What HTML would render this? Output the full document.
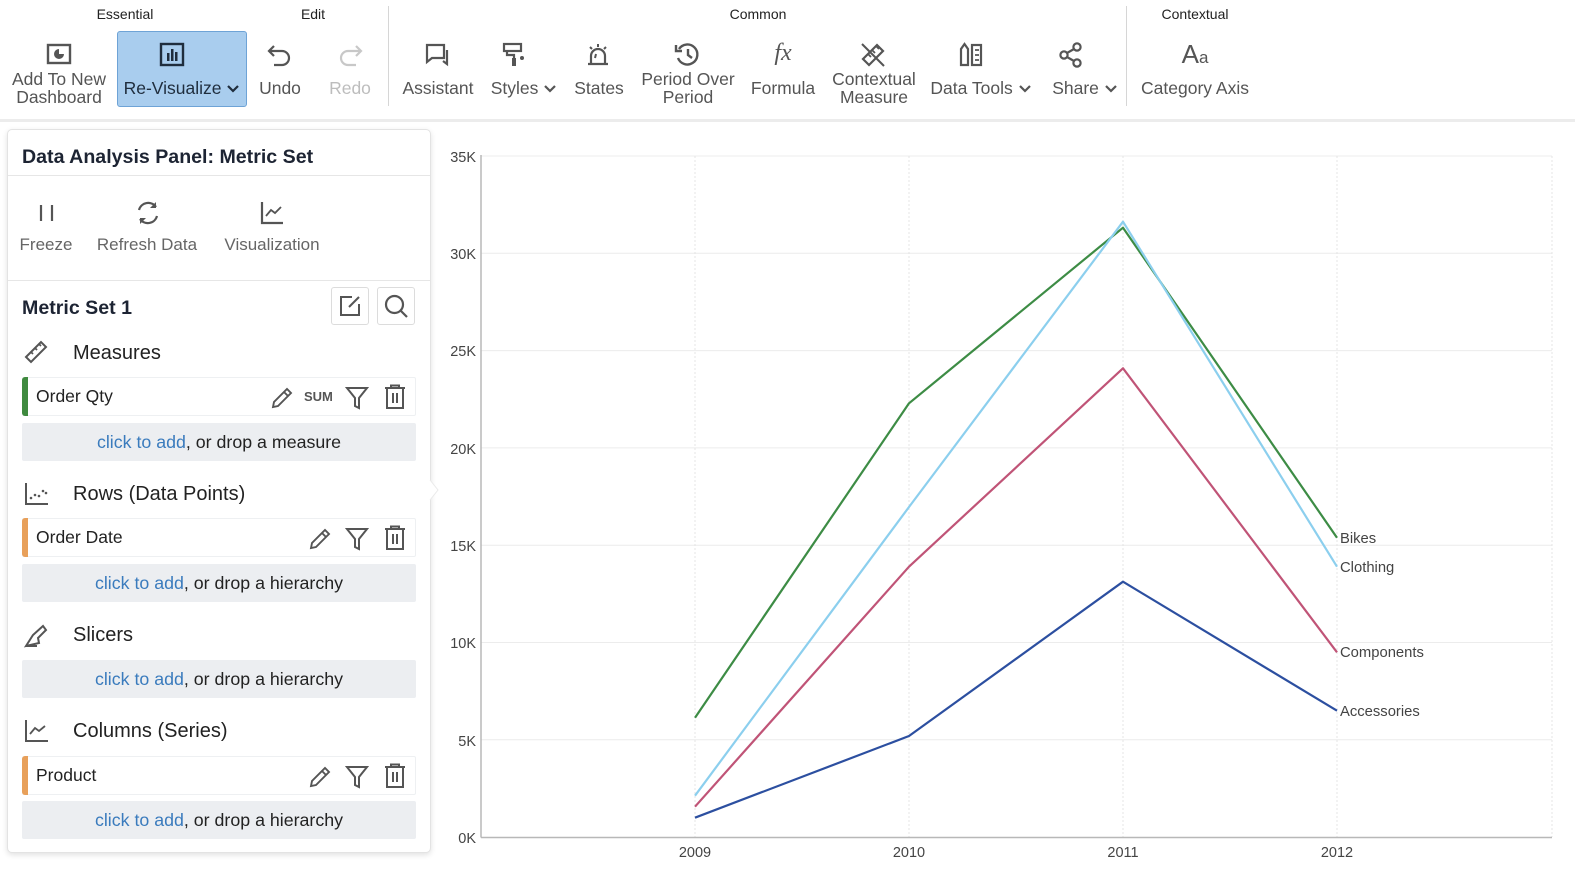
<!DOCTYPE html>
<html><head><meta charset="utf-8">
<style>
*{box-sizing:border-box;margin:0;padding:0}
html,body{width:1575px;height:872px;overflow:hidden;background:#fff;font-family:"Liberation Sans",Arial,sans-serif;color:#222}
.abs{position:absolute}
.grp{position:absolute;top:5px;font-size:14px;color:#222;width:160px;text-align:center;line-height:18px}
.tl{position:absolute;width:200px;text-align:center;font-size:17.5px;color:#555;line-height:18px}
.ic{position:absolute}
.sep{position:absolute;top:6px;width:1px;height:100px;background:#d6d6d6}
.panel{position:absolute;left:7px;top:129px;width:424px;height:724px;background:#fff;border:1px solid #e3e3e3;border-radius:5px;box-shadow:0 2px 6px rgba(0,0,0,.12)}
.ptl{position:absolute;font-size:17px;color:#666;width:160px;text-align:center;line-height:18px}
.sh{position:absolute;left:73px;font-size:20px;color:#222;line-height:22px}
.row{position:absolute;left:22px;width:394px;background:#fff;border:1px solid #eef0f2;border-radius:2px}
.row .bar{position:absolute;left:-1px;top:-1px;bottom:-1px;width:6px;border-radius:3px 0 0 3px}
.row .t{position:absolute;left:13px;top:0;bottom:0;display:flex;align-items:center;font-size:17.5px;color:#222}
.add{position:absolute;left:22px;width:394px;background:#eceef1;border-radius:2px;display:flex;align-items:center;justify-content:center;font-size:17.8px;color:#222}
.add span{color:#3a7bbd}
</style></head><body>

<!-- Toolbar -->
<div class="abs" style="left:0;top:119px;width:1575px;height:3px;background:#ececec"></div>
<div class="grp" style="left:45px">Essential</div>
<div class="grp" style="left:233px">Edit</div>
<div class="grp" style="left:678px">Common</div>
<div class="grp" style="left:1115px">Contextual</div>
<div class="sep" style="left:388px"></div>
<div class="sep" style="left:1126px"></div>

<!-- Add to new dashboard -->
<svg class="ic" style="left:46px;top:42px" width="26" height="26" viewBox="0 0 26 26"><rect x="2" y="3" width="22" height="18" fill="none" stroke="#555" stroke-width="2.4"/><path d="M13 7 a5 5 0 1 0 5 5 h-5z" fill="#555"/></svg>
<div class="tl" style="left:-41px;top:70px">Add To New<br>Dashboard</div>

<!-- Re-Visualize -->
<div class="abs" style="left:117px;top:31px;width:130px;height:76px;background:#a9cdee;border:1px solid #6ea3d6;border-radius:3px"></div>
<svg class="ic" style="left:159px;top:42px" width="26" height="26" viewBox="0 0 26 26"><rect x="2" y="2" width="22" height="21" fill="none" stroke="#1f2d3d" stroke-width="2.4"/><rect x="8" y="11" width="2.5" height="8" fill="#1f2d3d"/><rect x="12" y="7" width="2.5" height="12" fill="#1f2d3d"/><rect x="16" y="10" width="2.5" height="9" fill="#1f2d3d"/></svg>
<div class="tl" style="left:82px;top:79px;color:#1f2d3d">Re-Visualize <svg width="14" height="10" viewBox="0 0 14 10"><path d="M2 2 L7 7 L12 2" fill="none" stroke="#1f2d3d" stroke-width="2.2"/></svg></div>

<!-- Undo / Redo -->
<svg class="ic" style="left:266px;top:42px" width="28" height="26" viewBox="0 0 28 26"><path d="M8 4 L3 9 L8 14 M3 9 H16 a7 7 0 0 1 0 14 H8" fill="none" stroke="#555" stroke-width="2.2"/></svg>
<div class="tl" style="left:180px;top:79px">Undo</div>
<svg class="ic" style="left:336px;top:42px" width="28" height="26" viewBox="0 0 28 26"><path d="M20 4 L25 9 L20 14 M25 9 H12 a7 7 0 0 0 0 14 H20" fill="none" stroke="#c8c8c8" stroke-width="2.2"/></svg>
<div class="tl" style="left:250px;top:79px;color:#bdbdbd">Redo</div>

<!-- Assistant -->
<svg class="ic" style="left:424px;top:42px" width="28" height="26" viewBox="0 0 28 26"><path d="M3 3 H20 V16 H8 L3 20 Z" fill="none" stroke="#555" stroke-width="2.2"/><path d="M23 8 V22 L19 19" fill="none" stroke="#555" stroke-width="2.2"/></svg>
<div class="tl" style="left:338px;top:79px">Assistant</div>

<!-- Styles -->
<svg class="ic" style="left:501px;top:42px" width="26" height="26" viewBox="0 0 26 26"><rect x="3" y="2" width="17" height="7" fill="none" stroke="#555" stroke-width="2.2"/><path d="M6 9 V13 H13 V16" fill="none" stroke="#555" stroke-width="2.2"/><rect x="11" y="16" width="4" height="8" fill="#555"/><circle cx="21" cy="16" r="2" fill="#555"/></svg>
<div class="tl" style="left:424px;top:79px">Styles <svg width="14" height="10" viewBox="0 0 14 10"><path d="M2 2 L7 7 L12 2" fill="none" stroke="#555" stroke-width="2.2"/></svg></div>

<!-- States -->
<svg class="ic" style="left:585px;top:41px" width="26" height="27" viewBox="0 0 26 27"><path d="M6 23 V15 a7 7 0 0 1 14 0 V23 M3 23 H23" fill="none" stroke="#555" stroke-width="2.2"/><path d="M13 3 V6 M5 6 L7 8 M21 6 L19 8 M11 13 L10 17" stroke="#555" stroke-width="2"/></svg>
<div class="tl" style="left:499px;top:79px">States</div>

<!-- Period over period -->
<svg class="ic" style="left:673px;top:41px" width="28" height="27" viewBox="0 0 28 27"><path d="M6 8 a10 10 0 1 1 -1 9" fill="none" stroke="#555" stroke-width="2.4"/><path d="M3 4 V10 H9" fill="none" stroke="#555" stroke-width="2.4"/><path d="M15 8 V14 L19 17" fill="none" stroke="#555" stroke-width="2.4"/></svg>
<div class="tl" style="left:588px;top:70px">Period Over<br>Period</div>

<!-- Formula -->
<div class="abs" style="left:763px;top:40px;width:40px;text-align:center;font-family:'Liberation Serif',serif;font-style:italic;font-size:24px;color:#555">fx</div>
<div class="tl" style="left:683px;top:79px">Formula</div>

<!-- Contextual Measure -->
<svg class="ic" style="left:859px;top:41px" width="28" height="27" viewBox="0 0 28 27"><path d="M4 18 L18 4 L24 10 L10 24 Z" fill="none" stroke="#555" stroke-width="2.2"/><path d="M9 13 L12 16 M13 9 L16 12 M17 5 L20 8" stroke="#555" stroke-width="1.8"/><path d="M3 3 L25 25" stroke="#555" stroke-width="2"/></svg>
<div class="tl" style="left:774px;top:70px">Contextual<br>Measure</div>

<!-- Data Tools -->
<svg class="ic" style="left:958px;top:41px" width="26" height="27" viewBox="0 0 26 27"><path d="M3 24 V8 L6.5 3 L10 8 V24 Z" fill="none" stroke="#555" stroke-width="2.2"/><rect x="14" y="4" width="9" height="20" fill="none" stroke="#555" stroke-width="2.2"/><path d="M17 9 H21 M17 14 H21 M17 19 H21" stroke="#555" stroke-width="1.8"/></svg>
<div class="tl" style="left:881px;top:79px">Data Tools <svg width="14" height="10" viewBox="0 0 14 10"><path d="M2 2 L7 7 L12 2" fill="none" stroke="#555" stroke-width="2.2"/></svg></div>

<!-- Share -->
<svg class="ic" style="left:1058px;top:41px" width="26" height="27" viewBox="0 0 26 27"><circle cx="19" cy="6" r="3.6" fill="none" stroke="#555" stroke-width="2.2"/><circle cx="6" cy="14" r="3.6" fill="none" stroke="#555" stroke-width="2.2"/><circle cx="19" cy="22" r="3.6" fill="none" stroke="#555" stroke-width="2.2"/><path d="M9 12 L16 8 M9 16 L16 20" stroke="#555" stroke-width="2.2"/></svg>
<div class="tl" style="left:985px;top:79px">Share <svg width="14" height="10" viewBox="0 0 14 10"><path d="M2 2 L7 7 L12 2" fill="none" stroke="#555" stroke-width="2.2"/></svg></div>

<!-- Category Axis -->
<div class="abs" style="left:1165px;top:39px;width:60px;text-align:center;font-size:26px;color:#555;line-height:30px">A<span style="font-size:17px">a</span></div>
<div class="tl" style="left:1095px;top:79px">Category Axis</div>

<!-- Left panel -->
<div class="panel"></div>
<svg class="abs" style="left:428px;top:478px" width="12" height="24" viewBox="0 0 12 24"><path d="M0 0 L10 12 L0 24 Z" fill="#fff"/><path d="M2 2 L10 12 L2 22" fill="none" stroke="#eaeaea" stroke-width="1"/></svg>
<div class="abs" style="left:22px;top:146px;font-size:19.6px;font-weight:bold;color:#1d2433;line-height:22px">Data Analysis Panel: Metric Set</div>
<div class="abs" style="left:8px;top:175px;width:422px;height:1px;background:#e6e6e6"></div>

<svg class="abs" style="left:37px;top:202px" width="20" height="22" viewBox="0 0 20 22"><path d="M4 3 V19 M15 3 V19" stroke="#555" stroke-width="2.2"/></svg>
<div class="ptl" style="left:-34px;top:236px">Freeze</div>
<svg class="abs" style="left:134px;top:199px" width="28" height="28" viewBox="0 0 28 28"><path d="M5 11 a9.5 9.5 0 0 1 17 -3" fill="none" stroke="#555" stroke-width="2.2"/><path d="M23 17 a9.5 9.5 0 0 1 -17 3" fill="none" stroke="#555" stroke-width="2.2"/><path d="M22 3 V9 H16" fill="#555"/><path d="M6 25 V19 H12" fill="#555"/></svg>
<div class="ptl" style="left:67px;top:236px">Refresh Data</div>
<svg class="abs" style="left:259px;top:200px" width="26" height="26" viewBox="0 0 26 26"><path d="M3 2 V23 H24" fill="none" stroke="#555" stroke-width="2.2"/><path d="M7 16 L12 10 L16 13 L22 7" fill="none" stroke="#555" stroke-width="1.8"/></svg>
<div class="ptl" style="left:192px;top:236px">Visualization</div>
<div class="abs" style="left:8px;top:280px;width:422px;height:1px;background:#e6e6e6"></div>

<div class="abs" style="left:22px;top:297px;font-size:19.6px;font-weight:bold;color:#1d2433;line-height:22px">Metric Set 1</div>
<div class="abs" style="left:331px;top:287px;width:38px;height:38px;border:1px solid #dcdcdc;border-radius:3px"></div>
<svg class="abs" style="left:338px;top:294px" width="24" height="24" viewBox="0 0 24 24"><path d="M14 3 H3 V21 H21 V10" fill="none" stroke="#555" stroke-width="2"/><path d="M11 13 L21 3" stroke="#555" stroke-width="2"/></svg>
<div class="abs" style="left:377px;top:287px;width:38px;height:38px;border:1px solid #dcdcdc;border-radius:3px"></div>
<svg class="abs" style="left:383px;top:293px" width="26" height="26" viewBox="0 0 26 26"><circle cx="11.5" cy="11.5" r="8.5" fill="none" stroke="#555" stroke-width="2.2"/><path d="M18 18 L24 24" stroke="#555" stroke-width="2.2"/></svg>

<!-- Measures -->
<svg class="abs" style="left:23px;top:339px" width="26" height="26" viewBox="0 0 26 26"><path d="M3 18 L18 3 L23 8 L8 23 Z" fill="none" stroke="#555" stroke-width="2"/><path d="M8 13 L10 15 M12 9 L14 11 M16 5 L18 7" stroke="#555" stroke-width="1.8"/></svg>
<div class="sh" style="top:342px">Measures</div>
<div class="row" style="top:377px;height:39px"><div class="bar" style="background:#3f8a3f"></div><div class="t">Order Qty</div>
<svg class="abs" style="left:246px;top:7px" width="26" height="26" viewBox="0 0 26 26"><path d="M4 22 L5 17 L18 4 L22 8 L9 21 Z M15 7 L19 11" fill="none" stroke="#555" stroke-width="1.9"/></svg>
<div class="abs" style="left:281px;top:11px;font-size:13px;color:#555;font-weight:bold">SUM</div>
<svg class="abs" style="left:322px;top:7px" width="24" height="26" viewBox="0 0 24 26"><path d="M2 3 H22 L14 13 V23 L10 21 V13 Z" fill="none" stroke="#555" stroke-width="2"/></svg>
<svg class="abs" style="left:360px;top:6px" width="24" height="26" viewBox="0 0 24 26"><path d="M2 4 H22 M8 4 V1.5 H16 V4 M4 4 V24 H20 V4 M10 9 V19 M14 9 V19" fill="none" stroke="#555" stroke-width="2"/></svg>
</div>
<div class="add" style="top:423px;height:38px"><span>click to add</span>, or drop a measure</div>

<!-- Rows -->
<svg class="abs" style="left:24px;top:481px" width="26" height="26" viewBox="0 0 26 26"><path d="M2 2 V23 H24" fill="none" stroke="#555" stroke-width="2"/><circle cx="7" cy="17" r="1.3" fill="#555"/><circle cx="11" cy="14" r="1.3" fill="#555"/><circle cx="15" cy="15" r="1.3" fill="#555"/><circle cx="19" cy="10" r="1.3" fill="#555"/><circle cx="22" cy="12" r="1.3" fill="#555"/></svg>
<div class="sh" style="top:483px">Rows (Data Points)</div>
<div class="row" style="top:518px;height:39px"><div class="bar" style="background:#e8a05a"></div><div class="t">Order Date</div>
<svg class="abs" style="left:284px;top:7px" width="26" height="26" viewBox="0 0 26 26"><path d="M4 22 L5 17 L18 4 L22 8 L9 21 Z M15 7 L19 11" fill="none" stroke="#555" stroke-width="1.9"/></svg>
<svg class="abs" style="left:322px;top:7px" width="24" height="26" viewBox="0 0 24 26"><path d="M2 3 H22 L14 13 V23 L10 21 V13 Z" fill="none" stroke="#555" stroke-width="2"/></svg>
<svg class="abs" style="left:360px;top:6px" width="24" height="26" viewBox="0 0 24 26"><path d="M2 4 H22 M8 4 V1.5 H16 V4 M4 4 V24 H20 V4 M10 9 V19 M14 9 V19" fill="none" stroke="#555" stroke-width="2"/></svg>
</div>
<div class="add" style="top:564px;height:38px"><span>click to add</span>, or drop a hierarchy</div>

<!-- Slicers -->
<svg class="abs" style="left:23px;top:623px" width="26" height="26" viewBox="0 0 26 26"><path d="M3 23 L10 12 L20 3 L23 7 L15 15 L16 20 Z M3 23 H14" fill="none" stroke="#555" stroke-width="2"/></svg>
<div class="sh" style="top:624px">Slicers</div>
<div class="add" style="top:660px;height:38px"><span>click to add</span>, or drop a hierarchy</div>

<!-- Columns -->
<svg class="abs" style="left:24px;top:718px" width="26" height="26" viewBox="0 0 26 26"><path d="M2 2 V23 H24" fill="none" stroke="#555" stroke-width="2"/><path d="M6 16 L11 10 L15 13 L21 8" fill="none" stroke="#555" stroke-width="1.8"/></svg>
<div class="sh" style="top:720px">Columns (Series)</div>
<div class="row" style="top:756px;height:39px"><div class="bar" style="background:#e8a05a"></div><div class="t">Product</div>
<svg class="abs" style="left:284px;top:7px" width="26" height="26" viewBox="0 0 26 26"><path d="M4 22 L5 17 L18 4 L22 8 L9 21 Z M15 7 L19 11" fill="none" stroke="#555" stroke-width="1.9"/></svg>
<svg class="abs" style="left:322px;top:7px" width="24" height="26" viewBox="0 0 24 26"><path d="M2 3 H22 L14 13 V23 L10 21 V13 Z" fill="none" stroke="#555" stroke-width="2"/></svg>
<svg class="abs" style="left:360px;top:6px" width="24" height="26" viewBox="0 0 24 26"><path d="M2 4 H22 M8 4 V1.5 H16 V4 M4 4 V24 H20 V4 M10 9 V19 M14 9 V19" fill="none" stroke="#555" stroke-width="2"/></svg>
</div>
<div class="add" style="top:801px;height:38px"><span>click to add</span>, or drop a hierarchy</div>

<!-- Chart -->
<svg class="abs" style="left:0;top:0" width="1575" height="872" viewBox="0 0 1575 872" font-family="Liberation Sans, Arial, sans-serif">
  <g stroke="#ececec" stroke-width="1">
    <line x1="481" y1="156" x2="1552" y2="156"/>
    <line x1="481" y1="253.3" x2="1552" y2="253.3"/>
    <line x1="481" y1="350.6" x2="1552" y2="350.6"/>
    <line x1="481" y1="447.9" x2="1552" y2="447.9"/>
    <line x1="481" y1="545.2" x2="1552" y2="545.2"/>
    <line x1="481" y1="642.5" x2="1552" y2="642.5"/>
    <line x1="481" y1="739.8" x2="1552" y2="739.8"/>
  </g>
  <g stroke="#e4e4e4" stroke-width="1" stroke-dasharray="2,2">
    <line x1="695" y1="156" x2="695" y2="837"/>
    <line x1="909" y1="156" x2="909" y2="837"/>
    <line x1="1123" y1="156" x2="1123" y2="837"/>
    <line x1="1337" y1="156" x2="1337" y2="837"/>
    <line x1="1552" y1="156" x2="1552" y2="837"/>
  </g>
  <line x1="481" y1="155" x2="481" y2="837.5" stroke="#b8b8b8" stroke-width="1.5"/>
  <line x1="481" y1="837.5" x2="1552" y2="837.5" stroke="#b8b8b8" stroke-width="1.5"/>
  <g font-size="14.5" fill="#444" text-anchor="end">
    <text x="476" y="162">35K</text>
    <text x="476" y="259">30K</text>
    <text x="476" y="356">25K</text>
    <text x="476" y="454">20K</text>
    <text x="476" y="551">15K</text>
    <text x="476" y="648">10K</text>
    <text x="476" y="746">5K</text>
    <text x="476" y="843">0K</text>
  </g>
  <g font-size="14.5" fill="#444" text-anchor="middle">
    <text x="695" y="857">2009</text>
    <text x="909" y="857">2010</text>
    <text x="1123" y="857">2011</text>
    <text x="1337" y="857">2012</text>
  </g>
  <g fill="none" stroke-width="2.2" stroke-linejoin="round">
    <polyline stroke="#2c4fa0" points="695,817.7 909,736 1123,581.7 1337,710.7"/>
    <polyline stroke="#c05477" points="695,806.7 909,566.7 1123,368.3 1337,652.3"/>
    <polyline stroke="#3d8c45" points="695,717.7 909,403.3 1123,227.7 1337,537.7"/>
    <polyline stroke="#8ccfee" points="695,795.7 909,507 1123,221.7 1337,566.7"/>
  </g>
  <g font-size="14.8" fill="#444">
    <text x="1340" y="543">Bikes</text>
    <text x="1340" y="572">Clothing</text>
    <text x="1340" y="657">Components</text>
    <text x="1340" y="716">Accessories</text>
  </g>
</svg>
</body></html>
